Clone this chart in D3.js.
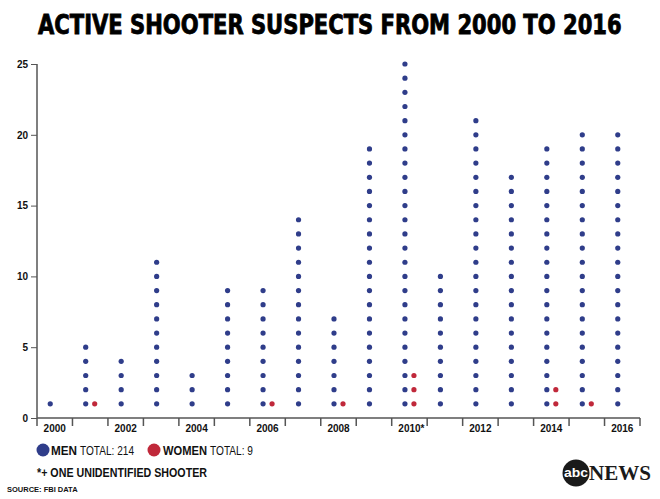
<!DOCTYPE html>
<html>
<head>
<meta charset="utf-8">
<script src="https://cdn.jsdelivr.net/npm/d3@7/dist/d3.min.js"></script>
<style>
  body { margin: 0; background: #fff; }
  svg { display: block; font-family: 'Liberation Sans', Arial, sans-serif; }
</style>
</head>
<body>
<svg id="chart" width="660" height="499"></svg>
<script>
const years = d3.range(2000, 2017);
const men = [1, 5, 4, 11, 3, 9, 9, 14, 7, 19, 25, 10, 21, 17, 19, 20, 20];
const women = [0, 1, 0, 0, 0, 0, 1, 0, 1, 0, 3, 0, 0, 0, 2, 1, 0];
const yTicks = [0, 5, 10, 15, 20, 25];
const labelYears = [2000, 2002, 2004, 2006, 2008, 2010, 2012, 2014, 2016];

const blue = '#2f3d8a';
const red = '#c0283a';

const svg = d3.select('#chart');

const x = d3.scaleBand().domain(years).range([37, 640]);
const y = d3.scaleLinear().domain([0, 25]).range([418, 64]);

// title, squeezed with a transform so it spans 38..622
const title = svg.append('text')
  .attr('x', 0)
  .attr('y', 0)
  .style('font-family', "'DejaVu Sans Condensed', 'DejaVu Sans', sans-serif")
  .style('font-weight', 'bold')
  .style('font-size', '26px')
  .style('fill', '#000')
  .style('stroke', '#000')
  .style('stroke-width', 0.8)
  .text('ACTIVE SHOOTER SUSPECTS FROM 2000 TO 2016');
const titleW = title.node().getComputedTextLength();
title.attr('transform', `translate(38,34) scale(${584 / titleW},1)`);

// y axis
const yAxis = svg.append('g')
  .attr('transform', 'translate(37,0)')
  .call(d3.axisLeft(y).tickValues(yTicks).tickSize(6).tickPadding(3));
yAxis.select('.domain').attr('d', 'M0,64V418').attr('stroke', '#555').attr('stroke-width', 1.5);
yAxis.selectAll('.tick line').attr('stroke', '#555');
yAxis.selectAll('text')
  .style('font-size', '10px')
  .style('font-weight', 'bold')
  .style('fill', '#111');

// x axis: ticks at band boundaries
const xg = svg.append('g').attr('transform', 'translate(0,418)');
xg.append('line')
  .attr('x1', 37).attr('x2', 640)
  .attr('stroke', '#555').attr('stroke-width', 1.5);
const bounds = years.map(d => x(d)).concat([x(2016) + x.bandwidth()]);
xg.selectAll('line.tk')
  .data(bounds)
  .enter().append('line')
  .attr('class', 'tk')
  .attr('x1', d => d).attr('x2', d => d)
  .attr('y1', 0).attr('y2', 8)
  .attr('stroke', '#555').attr('stroke-width', 1.5);
xg.selectAll('text')
  .data(labelYears)
  .enter().append('text')
  .attr('x', d => x(d) + x.bandwidth() / 2 + (d === 2010 ? 2 : 0))
  .attr('y', 14)
  .attr('text-anchor', 'middle')
  .style('font-size', '10px')
  .style('font-weight', 'bold')
  .style('fill', '#111')
  .text(d => (d === 2010 ? '2010*' : d));

// dots
const dots = [];
years.forEach((yr, i) => {
  for (let k = 1; k <= men[i]; k += 1) dots.push({ yr, k, sex: 'm' });
  for (let k = 1; k <= women[i]; k += 1) dots.push({ yr, k, sex: 'w' });
});

svg.append('g').selectAll('circle')
  .data(dots)
  .enter().append('circle')
  .attr('cx', d => x(d.yr) + x.bandwidth() / 2 + (d.sex === 'm' ? -4.5 : 4.5))
  .attr('cy', d => y(d.k))
  .attr('r', 2.6)
  .attr('fill', d => (d.sex === 'm' ? blue : red));

// legend
const legendItems = [
  { name: 'MEN', total: 'TOTAL: 214', color: blue, cx: 43, lx: 51, lw: 26, tx: 80, tw: 54 },
  { name: 'WOMEN', total: 'TOTAL: 9', color: red, cx: 154, lx: 163, lw: 44, tx: 210, tw: 43 },
];
const legend = svg.append('g').attr('transform', 'translate(0,450)');
legendItems.forEach((it) => {
  legend.append('circle').attr('cx', it.cx).attr('cy', 0).attr('r', 6.5).attr('fill', it.color);
  legend.append('text')
    .attr('x', it.lx).attr('y', 5)
    .attr('textLength', it.lw)
    .attr('lengthAdjust', 'spacingAndGlyphs')
    .style('font-size', '13px')
    .style('font-weight', 'bold')
    .style('fill', '#111')
    .text(it.name);
  legend.append('text')
    .attr('x', it.tx).attr('y', 5)
    .attr('textLength', it.tw)
    .attr('lengthAdjust', 'spacingAndGlyphs')
    .style('font-size', '13px')
    .style('fill', '#111')
    .text(it.total);
});

svg.append('text')
  .attr('x', 37).attr('y', 477)
  .attr('textLength', 170)
  .attr('lengthAdjust', 'spacingAndGlyphs')
  .style('font-size', '12px')
  .style('font-weight', 'bold')
  .style('fill', '#111')
  .text('*+ ONE UNIDENTIFIED SHOOTER');

svg.append('text')
  .attr('x', 7).attr('y', 492)
  .style('font-size', '7.5px')
  .style('font-weight', 'bold')
  .style('fill', '#111')
  .text('SOURCE: FBI DATA');

// abc news logo
const logo = svg.append('g').attr('transform', 'translate(576,473)');
logo.append('circle').attr('r', 13.5).attr('fill', '#1a1a1a');
logo.append('text')
  .attr('y', 4)
  .attr('text-anchor', 'middle')
  .attr('textLength', 24)
  .attr('lengthAdjust', 'spacingAndGlyphs')
  .style('font-size', '13px')
  .style('font-weight', 'bold')
  .style('fill', '#fff')
  .text('abc');
logo.append('text')
  .attr('x', 13)
  .attr('y', 7)
  .attr('textLength', 62)
  .attr('lengthAdjust', 'spacingAndGlyphs')
  .style('font-family', "'Liberation Serif', 'Times New Roman', serif")
  .style('font-size', '20px')
  .style('font-weight', 'bold')
  .style('fill', '#1a1a1a')
  .text('NEWS');
</script>
</body>
</html>
